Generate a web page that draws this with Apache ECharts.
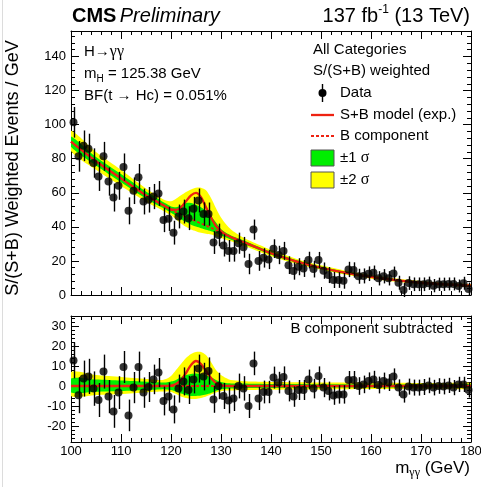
<!DOCTYPE html>
<html><head><meta charset="utf-8">
<script src="https://cdn.jsdelivr.net/npm/echarts@6/dist/echarts.min.js"></script>
<style>html,body{margin:0;padding:0;background:#fff}#c{width:481px;height:487px}</style>
</head><body><div id="c"></div>
<script>
// ---- data ----
const binCenters = Array.from({length: 80}, (_, i) => 100.5 + i); // 1 GeV bins, 100-180 GeV
const dataTop = [101.4,81.4,87.6,85.9,77.5,69.6,81.4,66.6,57.2,64.1,
  75.1,49.4,61.2,69.2,54.9,55.9,57.8,59.6,44.1,44.7,
  36.6,46.1,49.0,45.1,50.6,55.5,47.5,47.5,30.8,35.3,
  29.1,25.9,25.9,30.4,28.0,18.2,38.4,20.0,21.8,20.8,
  27.2,23.5,25.9,17.5,14.1,16.6,15.6,20.5,15.2,20.5,
  14.3,11.7,8.8,8.8,8.3,15.0,14.7,11.0,11.2,12.5,
  13.0,9.8,11.0,9.8,12.6,7.2,2.9,7.0,6.3,6.3,
  6.3,6.9,5.5,6.3,6.3,6.5,6.5,5.3,6.9,3.5];
const dataBottom = [12.8,-4.6,3.7,4.8,-1.3,-7.0,7.2,-5.3,-12.7,-3.3,
  9.5,-14.7,-0.8,9.5,-3.3,-0.5,3.3,6.7,-7.5,-5.3,
  -11.7,-1.3,2.3,-2.0,3.3,8.7,4.7,7.5,-6.7,0.0,
  -5.0,-7.3,-6.2,0.0,-1.2,-10.0,11.3,-6.2,-3.0,-3.0,
  4.2,1.7,4.5,-2.5,-5.3,-2.0,-2.0,3.3,-1.3,5.0,
  -0.8,-2.5,-4.7,-4.2,-4.2,3.0,3.0,0.0,0.8,2.5,
  3.3,0.5,2.5,1.7,4.7,-0.8,-4.2,-0.3,-0.8,-0.8,
  -0.5,0.3,-0.8,0.0,-0.3,0.3,-0.8,0.8,0.8,-2.0];
const dataErr = [9,9,9,8.8,8.6,8.5,8.5,8.3,8.2,8.2,
  8,7.9,7.8,7.7,7.6,7.5,7.4,7.3,7.2,7.1,
  7,7,7,7,7,7,6.9,6.8,6.7,6.6,
  6.5,6.4,6.3,6.2,6.1,6,5.9,5.8,5.7,5.6,
  5.5,5.4,5.3,5.2,5.1,5,5,4.9,4.9,4.8,
  4.8,4.7,4.7,4.6,4.6,4.5,4.5,4.4,4.4,4.3,
  4.3,4.2,4.2,4.2,4.1,4.1,4.1,4,4,4,
  4,3.9,3.9,3.9,3.9,3.8,3.8,3.8,3.8,3.8];

const modelX = [100,105,110,115,118,119,120,121,122,123,124,125,126,127,128,129,130,131,132,134,136,140,145,150,155,160,165,170,175,180];
const topB   = [90,78.5,68.5,58.5,53.5,51.8,50,48.5,47,45.8,44.5,43.3,42,40.8,39.5,38,36.5,35.2,34,31.6,29.3,24.5,19.8,16,13,10.6,8.7,7.2,6.2,5.5];
const topSB  = [90,78.5,68.5,58.5,53.5,51.8,50.3,50,51.5,55,58.5,60,57.5,51.5,45.5,40.5,37.5,35.4,34,31.6,29.3,24.5,19.8,16,13,10.6,8.7,7.2,6.2,5.5];
const topYelHi = [96.5,84,73.5,62.5,57,55.5,55,56.5,58.5,60.5,62,63,63,61.5,57,51,45.5,41.5,38.5,34.5,31.5,26.5,21.3,17.4,14.2,11.7,9.7,8.2,7.1,6.4];
const topYelLo = [84.5,73.5,64,54.8,50.2,48.5,46.8,44.5,42,40,38.5,37.5,36.5,36,35.5,34.5,33.5,32.5,31.5,29.3,27.3,22.8,18.4,14.8,11.9,9.6,7.8,6.3,5.4,4.7];
const topGrnHi = [93,81,71,60.7,55.4,53.7,52,51.5,52.5,54,54,53,51.5,49.5,46.5,42.5,38.8,36.5,35,32.7,30.3,25.4,20.6,16.7,13.6,11.1,9.2,7.7,6.6,5.9];
const topGrnLo = [87,76,66.2,56.5,51.6,50,48.3,46.5,44.5,42.8,41.3,40.2,39.2,38.3,37.5,36.5,35,33.8,32.5,30.4,28.3,23.6,19,15.3,12.4,10.1,8.2,6.7,5.8,5.1];
const botB   = [0,0,0,0,0,0,0,0,0,0,0,0,0,0,0,0,0,0,0,0,0,0,0,0,0,0,0,0,0,0];
const botSB  = [0,0,0,0,0,0,0.2,1,3,6.5,10.5,12.5,11,7.5,4,1.5,0.5,0.1,0,0,0,0,0,0,0,0,0,0,0,0];
const botYelHi = [7,5.5,4.5,3.5,3,3.5,5,8,11,14,16,17,17,15.5,12,8,5.5,4,3,2.5,2.2,2,1.9,1.8,1.7,1.6,1.6,1.5,1.5,1.5];
const botYelLo = [-5,-4.5,-4,-3.2,-2.8,-2.8,-3,-4,-5.2,-6,-6.5,-6.5,-6,-5.2,-4.2,-3.2,-2.6,-2.3,-2.2,-2.1,-2,-1.9,-1.8,-1.7,-1.6,-1.5,-1.5,-1.4,-1.4,-1.4];
const botGrnHi = [3.7,3.2,2.7,2.1,1.8,1.8,2.2,3,4.5,5.5,6,6.2,6,5.5,4.5,3,2,1.5,1.3,1.2,1.1,1,1,0.9,0.9,0.8,0.8,0.8,0.8,0.8];
const botGrnLo = [-3.3,-2.9,-2.5,-2,-1.7,-1.7,-2,-2.8,-3.8,-4.5,-5,-5,-4.8,-4.3,-3.5,-2.5,-1.8,-1.4,-1.2,-1.1,-1,-1,-0.9,-0.9,-0.8,-0.8,-0.7,-0.7,-0.7,-0.7];

// ---- styles ----
const FONT = 'Liberation Sans';
const RED = '#ee2211', GREEN = '#00ee00', YELLOW = '#ffff00';

function band(xi, yi, lo, hi, color, z) {
  return {type:'custom', xAxisIndex:xi, yAxisIndex:yi, silent:true, z:z, clip:true,
    data:[[modelX[0], lo[0]]],
    renderItem:(params, api) => {
      const pts = [];
      for (let i = 0; i < modelX.length; i++) pts.push(api.coord([modelX[i], hi[i]]));
      for (let i = modelX.length - 1; i >= 0; i--) pts.push(api.coord([modelX[i], lo[i]]));
      return {type:'polygon', shape:{points:pts, smooth:0.25}, style:{fill:color}};
    }};
}
function line(xi, yi, ys, dashed, z) {
  return {type:'line', xAxisIndex:xi, yAxisIndex:yi, silent:true, z:z, showSymbol:false, symbol:'none',
    smooth:0.3, data:modelX.map((x, i) => [x, ys[i]]),
    lineStyle:{color:RED, width: dashed ? 1.8 : 2.3, type: dashed ? [3,2] : 'solid'}};
}
function errBars(xi, yi, vals) {
  return {type:'custom', xAxisIndex:xi, yAxisIndex:yi, silent:true, z:5,
    data: binCenters.map((x, i) => [x, vals[i] - dataErr[i], vals[i] + dataErr[i]]),
    encode:{x:0, y:[1,2]},
    renderItem:(params, api) => {
      const a = api.coord([api.value(0), api.value(1)]);
      const b = api.coord([api.value(0), api.value(2)]);
      const x = Math.round(a[0]) + 0.5;
      return {type:'line', shape:{x1:x, y1:a[1], x2:x, y2:b[1]}, style:{stroke:'#000', lineWidth:1.4}};
    }};
}
function points(xi, yi, vals) {
  return {type:'scatter', xAxisIndex:xi, yAxisIndex:yi, silent:true, z:6, symbol:'circle', symbolSize:8,
    data: binCenters.map((x, i) => [x, vals[i]]), itemStyle:{color:'#000'}};
}

function xAx(grid, pos, labels) {
  return {type:'value', gridIndex:grid, position:pos, min:100, max:180, interval:10,
    axisLine:{show:true, onZero:false, lineStyle:{color:'#000', width:1}},
    axisTick:{show:true, inside:true, length:8, lineStyle:{color:'#000'}},
    minorTick:{show:true, splitNumber:5, length:4, lineStyle:{color:'#000'}},
    splitLine:{show:false},
    axisLabel:{show:labels, color:'#000', fontFamily:FONT, fontSize:13, margin:3}};
}
function yAx(grid, pos, min, max, interval, labels) {
  const ax = {type:'value', gridIndex:grid, position:pos, min:min, max:max,
    axisLine:{show:true, onZero:false, lineStyle:{color:'#000', width:1}},
    axisTick:{show:true, inside:true, length:8, lineStyle:{color:'#000'}},
    minorTick:{show:true, splitNumber:5, length:4, lineStyle:{color:'#000'}},
    splitLine:{show:false},
    axisLabel:{show:labels, color:'#000', fontFamily:FONT, fontSize:13, margin:5,
      showMinLabel: min === 0, showMaxLabel:false}};
  if (interval) ax.interval = interval; else ax.splitNumber = 5;
  return ax;
}

const txt = (x, y, text, size, extra) => Object.assign({type:'text', x:x, y:y, silent:true, z:100,
  style:Object.assign({text:text, fill:'#000', font: size + 'px "' + FONT + '"', textAlign:'left', textVerticalAlign:'middle'}, extra || {})});

const chart = echarts.init(document.getElementById('c'), null, {renderer:'canvas'});
chart.setOption({
  animation:false,
  backgroundColor:'#fff',
  grid:[
    {left:71, right:10, top:31, height:264, outerBoundsMode:'none', containLabel:false},
    {left:71, right:10, top:316, height:126, outerBoundsMode:'none', containLabel:false}
  ],
  xAxis:[ xAx(0,'bottom',false), xAx(0,'top',false), xAx(1,'bottom',true), xAx(1,'top',false) ],
  yAxis:[ yAx(0,'left',0,155,20,true), yAx(0,'right',0,155,20,false),
          yAx(1,'left',-28,35,null,true), yAx(1,'right',-28,35,null,false) ],
  series:[
    band(0,0,topYelLo,topYelHi,YELLOW,1),
    band(0,0,topGrnLo,topGrnHi,GREEN,2),
    line(0,0,topB,true,3),
    line(0,0,topSB,false,4),
    errBars(0,0,dataTop),
    points(0,0,dataTop),
    band(2,2,botYelLo,botYelHi,YELLOW,1),
    band(2,2,botGrnLo,botGrnHi,GREEN,2),
    line(2,2,botB,true,3),
    line(2,2,botSB,false,4),
    errBars(2,2,dataBottom),
    points(2,2,dataBottom)
  ],
  graphic:[
    {type:'line', silent:true, shape:{x1:2.5, y1:0, x2:2.5, y2:487}, style:{stroke:'#dcdcdc', lineWidth:1}},
    {type:'text', x:72, y:16, silent:true, style:{text:'{a|CMS} {b|Preliminary}', textVerticalAlign:'middle',
      rich:{a:{fontFamily:FONT, fontWeight:'bold', fontSize:20, fill:'#000'}, b:{fontFamily:FONT, fontStyle:'italic', fontSize:20, fill:'#000'}}}},
    {type:'text', x:470, y:16, silent:true, style:{text:'{m|137 fb}{s|-1}{m| (13 TeV)}', textAlign:'right', textVerticalAlign:'middle',
      rich:{m:{fontFamily:FONT, fontSize:20, lineHeight:24, fill:'#000'}, s:{fontFamily:FONT, fontSize:12, lineHeight:12, verticalAlign:'top', fill:'#000'}}}},
    {type:'text', x:84, y:52, silent:true, style:{text:'{m|H→}{g|γγ}', textVerticalAlign:'middle',
      rich:{m:{fontFamily:FONT, fontSize:15, fill:'#000'}, g:{fontFamily:'Liberation Serif', fontSize:16, fill:'#000'}}}},
    {type:'text', x:84, y:74, silent:true, style:{text:'{m|m}{s|H}{m| = 125.38 GeV}', textVerticalAlign:'middle',
      rich:{m:{fontFamily:FONT, fontSize:15, lineHeight:20, fill:'#000'}, s:{fontFamily:FONT, fontSize:10, lineHeight:10, verticalAlign:'bottom', fill:'#000'}}}},
    txt(84, 96, 'BF(t → Hc) = 0.051%', 15),
    txt(313, 50, 'All Categories', 15),
    txt(313, 71, 'S/(S+B) weighted', 15),
    {type:'line', silent:true, shape:{x1:322.5, y1:84, x2:322.5, y2:102}, style:{stroke:'#000', lineWidth:1.4}},
    {type:'circle', silent:true, shape:{cx:322.5, cy:93, r:4}, style:{fill:'#000'}},
    txt(340, 93, 'Data', 15),
    {type:'line', silent:true, shape:{x1:311, y1:115, x2:334, y2:115}, style:{stroke:RED, lineWidth:2.3}},
    txt(340, 115, 'S+B model (exp.)', 15),
    {type:'line', silent:true, shape:{x1:311, y1:136, x2:334, y2:136}, style:{stroke:RED, lineWidth:1.8, lineDash:[3,2]}},
    txt(340, 136, 'B component', 15),
    {type:'rect', silent:true, shape:{x:311, y:150, width:23, height:16}, style:{fill:GREEN, stroke:'#555', lineWidth:1}},
    {type:'text', x:340, y:158, silent:true, style:{text:'{m|±1 }{g|σ}', textVerticalAlign:'middle',
      rich:{m:{fontFamily:FONT, fontSize:15, fill:'#000'}, g:{fontFamily:'Liberation Serif', fontSize:16, fill:'#000'}}}},
    {type:'rect', silent:true, shape:{x:311, y:172, width:23, height:16}, style:{fill:YELLOW, stroke:'#555', lineWidth:1}},
    {type:'text', x:340, y:180, silent:true, style:{text:'{m|±2 }{g|σ}', textVerticalAlign:'middle',
      rich:{m:{fontFamily:FONT, fontSize:15, fill:'#000'}, g:{fontFamily:'Liberation Serif', fontSize:16, fill:'#000'}}}},
    txt(453, 329, 'B component subtracted', 15, {textAlign:'right'}),
    {type:'text', x:470, y:468, silent:true, style:{text:'{m|m}{s|γγ}{m| (GeV)}', textAlign:'right', textVerticalAlign:'middle',
      rich:{m:{fontFamily:FONT, fontSize:17, lineHeight:22, fill:'#000'}, s:{fontFamily:'Liberation Serif', fontSize:12, lineHeight:12, verticalAlign:'bottom', fill:'#000'}}}},
    {type:'text', x:13, y:168, rotation:Math.PI/2, silent:true, style:{text:'S/(S+B) Weighted Events / GeV', fill:'#000',
      font:'18px "' + FONT + '"', textAlign:'center', textVerticalAlign:'middle'}}
  ]
});
</script></body></html>
